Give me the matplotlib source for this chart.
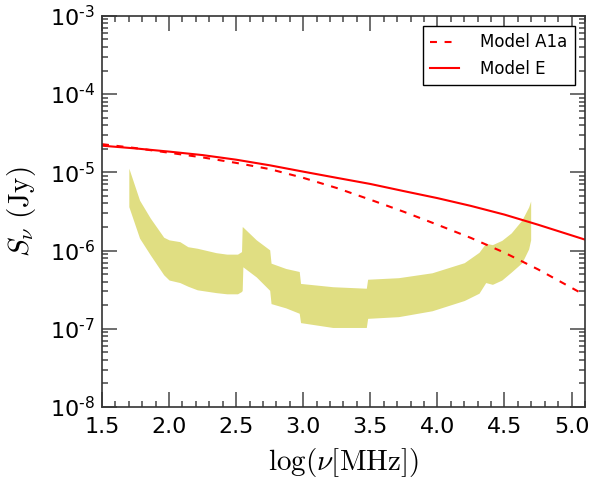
import numpy as np
import matplotlib
matplotlib.use("Agg")
import matplotlib.pyplot as plt
from matplotlib.ticker import MultipleLocator, LogLocator, FuncFormatter, NullFormatter

plt.rcParams["font.family"] = ["DejaVu Sans"]
plt.rcParams["mathtext.fontset"] = "cm"
plt.rcParams["lines.scale_dashes"] = False

# Model spectra: log frequency (MHz) and flux density (Jy)
model_x = [1.5, 1.75, 2.0, 2.25, 2.5, 2.75, 3.0, 3.25, 3.5, 3.75, 4.0, 4.25, 4.5, 4.75, 5.1]
model_a1a = [2.29e-5, 2.04e-5, 1.78e-5, 1.55e-5, 1.32e-5, 1.10e-5, 8.5e-6, 6.3e-6,
             4.47e-6, 3.13e-6, 2.14e-6, 1.45e-6, 9.4e-7, 5.75e-7, 2.69e-7]
model_e = [2.19e-5, 2.02e-5, 1.84e-5, 1.66e-5, 1.45e-5, 1.23e-5, 1.02e-5, 8.5e-6,
           7.1e-6, 5.75e-6, 4.68e-6, 3.72e-6, 2.88e-6, 2.14e-6, 1.38e-6]

# Sensitivity region: upper and lower bounds (Jy)
band_x = [1.70, 1.78, 1.86, 1.96, 2.00, 2.08, 2.14, 2.21, 2.35, 2.43, 2.51, 2.54,
          2.545, 2.55, 2.65, 2.75, 2.76, 2.87, 2.97, 2.98, 3.22, 3.47, 3.48, 3.71,
          3.96, 4.20, 4.31, 4.36, 4.41, 4.48, 4.55, 4.63, 4.68, 4.695]
band_hi = [1.13e-5, 4.4e-6, 2.6e-6, 1.48e-6, 1.37e-6, 1.30e-6, 1.12e-6, 1.07e-6,
           9.4e-7, 9.0e-7, 9.0e-7, 9.7e-7, 2.02e-6, 2.0e-6, 1.37e-6, 1.02e-6, 6.9e-7,
           5.9e-7, 5.4e-7, 3.8e-7, 3.45e-7, 3.3e-7, 4.3e-7, 4.5e-7, 5.2e-7, 7.0e-7,
           9.5e-7, 1.24e-6, 1.19e-6, 1.35e-6, 1.68e-6, 2.46e-6, 3.6e-6, 4.3e-6]
band_lo = [3.64e-6, 1.44e-6, 8.8e-7, 4.9e-7, 4.2e-7, 3.9e-7, 3.5e-7, 3.15e-7,
           2.9e-7, 2.8e-7, 2.8e-7, 3.0e-7, 3.1e-7, 6.2e-7, 4.6e-7, 3.1e-7, 2.1e-7,
           1.85e-7, 1.58e-7, 1.2e-7, 1.04e-7, 1.04e-7, 1.36e-7, 1.43e-7, 1.7e-7,
           2.3e-7, 2.85e-7, 3.9e-7, 3.7e-7, 4.2e-7, 5.3e-7, 7.0e-7, 1.05e-6, 1.37e-6]

x_ticks = [1.5, 2.0, 2.5, 3.0, 3.5, 4.0, 4.5, 5.0]

fig = plt.figure(figsize=(5.93, 4.8), dpi=100)
ax = fig.add_axes([0.172, 0.152, 0.8145, 0.815])

ax.fill_between(band_x, band_lo, band_hi, color="#e0de82", linewidth=0)
ax.plot(model_x, model_a1a, color="red", lw=1.5, dashes=(5, 5.5), label="Model A1a")
ax.plot(model_x, model_e, color="red", lw=1.5, label="Model E")

ax.set_yscale("log")
ax.set_xlim(1.5, 5.1)
ax.set_ylim(1e-8, 1e-3)

ax.set_xticks(x_ticks)
ax.xaxis.set_major_formatter(FuncFormatter(lambda v, p: "%.1f" % v))
ax.xaxis.set_minor_locator(MultipleLocator(0.1))
ax.yaxis.set_major_locator(LogLocator(base=10, numticks=10))
ax.yaxis.set_minor_locator(LogLocator(base=10, subs=np.arange(2, 10), numticks=20))
ax.yaxis.set_minor_formatter(NullFormatter())
ax.yaxis.set_major_formatter(
    FuncFormatter(lambda v, p: "$\\mathdefault{10^{\u2010%d}}$" % -int(round(np.log10(v)))))

ax.tick_params(which="both", direction="in", top=True, right=True,
               color="#555555", width=1.2, labelsize=16)
ax.tick_params(axis="x", which="major", pad=7)
ax.tick_params(axis="y", which="major", pad=5)
ax.tick_params(which="major", length=11)
ax.tick_params(which="minor", length=4.5)
for s in ax.spines.values():
    s.set_color("#333333")
    s.set_linewidth(1.2)

ax.set_xlabel(r"$\log(\nu[\mathrm{MHz}])$", fontsize=21, labelpad=7)
ax.set_ylabel(r"$S_{\nu}\ (\mathrm{Jy})$", fontsize=21, labelpad=8.5)

leg = ax.legend(loc="upper right", fontsize=12, fancybox=False, framealpha=1,
                edgecolor="black", handlelength=1.7, handletextpad=1.3,
                borderaxespad=0.6, labelspacing=0.5, borderpad=0.45)
leg.get_frame().set_linewidth(1.0)

fig.savefig("out.png", dpi=100)
